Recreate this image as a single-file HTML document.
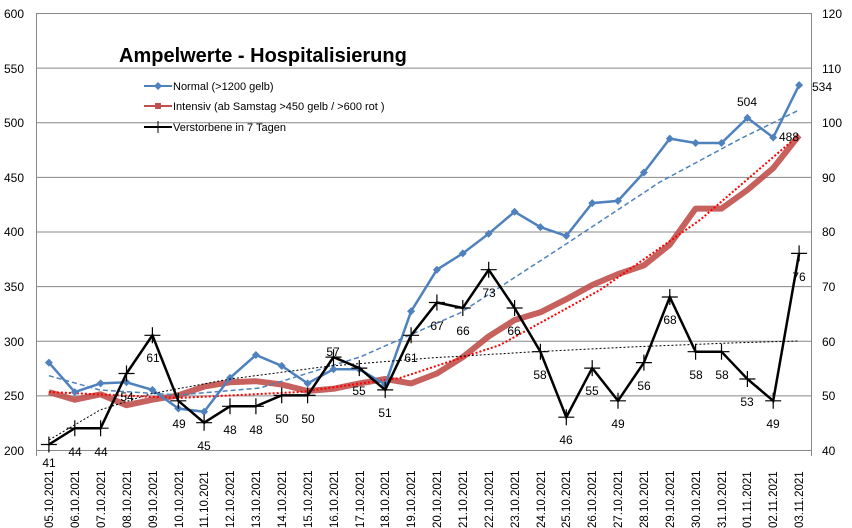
<!DOCTYPE html>
<html><head><meta charset="utf-8"><style>
body{margin:0;background:#fff;}
svg{display:block;font-family:"Liberation Sans",sans-serif;}
</style></head><body>
<svg width="852" height="528" xmlns="http://www.w3.org/2000/svg">
<g stroke="#888" stroke-width="1">
<line x1="36" y1="13.5" x2="812" y2="13.5"/>
<line x1="36" y1="68.1" x2="812" y2="68.1"/>
<line x1="36" y1="122.8" x2="812" y2="122.8"/>
<line x1="36" y1="177.4" x2="812" y2="177.4"/>
<line x1="36" y1="232" x2="812" y2="232"/>
<line x1="36" y1="286.6" x2="812" y2="286.6"/>
<line x1="36" y1="341.3" x2="812" y2="341.3"/>
<line x1="36" y1="395.9" x2="812" y2="395.9"/>
<line x1="36" y1="450.5" x2="812" y2="450.5"/>
<line x1="36.5" y1="13" x2="36.5" y2="456"/>
<line x1="811.5" y1="13" x2="811.5" y2="456"/>
</g>
<g font-size="12" fill="#000">
<text x="4" y="18">600</text><text x="4" y="73">550</text><text x="4" y="127">500</text><text x="4" y="182">450</text><text x="4" y="236">400</text><text x="4" y="291">350</text><text x="4" y="346">300</text><text x="4" y="400">250</text><text x="4" y="455">200</text>
<text x="822" y="18">120</text><text x="822" y="73">110</text><text x="822" y="127">100</text><text x="822" y="182">90</text><text x="822" y="236">80</text><text x="822" y="291">70</text><text x="822" y="346">60</text><text x="822" y="400">50</text><text x="822" y="455">40</text>
</g>
<g font-size="11.5" fill="#000">
<text transform="translate(53,528) rotate(-90)">05.10.2021</text>
<text transform="translate(79,528) rotate(-90)">06.10.2021</text>
<text transform="translate(105,528) rotate(-90)">07.10.2021</text>
<text transform="translate(131,528) rotate(-90)">08.10.2021</text>
<text transform="translate(157,528) rotate(-90)">09.10.2021</text>
<text transform="translate(183,528) rotate(-90)">10.10.2021</text>
<text transform="translate(208,528) rotate(-90)">11.10.2021</text>
<text transform="translate(234,528) rotate(-90)">12.10.2021</text>
<text transform="translate(260,528) rotate(-90)">13.10.2021</text>
<text transform="translate(286,528) rotate(-90)">14.10.2021</text>
<text transform="translate(312,528) rotate(-90)">15.10.2021</text>
<text transform="translate(338,528) rotate(-90)">16.10.2021</text>
<text transform="translate(364,528) rotate(-90)">17.10.2021</text>
<text transform="translate(389,528) rotate(-90)">18.10.2021</text>
<text transform="translate(415,528) rotate(-90)">19.10.2021</text>
<text transform="translate(441,528) rotate(-90)">20.10.2021</text>
<text transform="translate(467,528) rotate(-90)">21.10.2021</text>
<text transform="translate(493,528) rotate(-90)">22.10.2021</text>
<text transform="translate(519,528) rotate(-90)">23.10.2021</text>
<text transform="translate(545,528) rotate(-90)">24.10.2021</text>
<text transform="translate(570,528) rotate(-90)">25.10.2021</text>
<text transform="translate(596,528) rotate(-90)">26.10.2021</text>
<text transform="translate(622,528) rotate(-90)">27.10.2021</text>
<text transform="translate(648,528) rotate(-90)">28.10.2021</text>
<text transform="translate(674,528) rotate(-90)">29.10.2021</text>
<text transform="translate(700,528) rotate(-90)">30.10.2021</text>
<text transform="translate(726,528) rotate(-90)">31.10.2021</text>
<text transform="translate(751,528) rotate(-90)">01.11.2021</text>
<text transform="translate(777,528) rotate(-90)">02.11.2021</text>
<text transform="translate(803,528) rotate(-90)">03.11.2021</text>
</g>
<!-- Intensiv -->
<polyline fill="none" stroke="#c0504d" stroke-width="6" stroke-linejoin="round" opacity="0.9" points="48.9,392.1 74.8,399.7 100.6,394.3 126.5,405.2 152.4,399.7 178.3,395.4 204.1,386.6 230,382.3 255.9,381.2 281.7,384.5 307.6,391 333.5,388.8 359.3,383.4 385.2,379 411.1,383.4 436.9,373.5 462.8,357.1 488.7,336.4 514.6,320 540.4,312.3 566.3,299.2 592.2,285 618,274.1 643.9,265.4 669.8,244.6 695.6,208.6 721.5,208.6 747.4,190 773.2,168.1 799.1,135.4"/>
<polyline fill="none" stroke="#ff0000" stroke-width="2" stroke-dasharray="2,2" points="48.9,392 178,398 300,392 400,378 500,345 600,290 700,220 799,135"/>
<!-- Normal -->
<polyline fill="none" stroke="#4f81bd" stroke-width="2.5" points="48.9,362.6 74.8,392.1 100.6,383.4 126.5,382.3 152.4,389.9 178.3,408.5 204.1,411.8 230,377.9 255.9,355 281.7,365.9 307.6,383.4 333.5,369.2 359.3,369.2 385.2,384.5 411.1,311.3 436.9,269.7 462.8,253.4 488.7,233.7 514.6,211.8 540.4,227.1 566.3,235.9 592.2,203.1 618,200.9 643.9,172.5 669.8,138.6 695.6,143 721.5,143 747.4,117.9 773.2,137.5 799.1,85.1"/>
<g fill="#4f81bd">
<path d="M48.9,358.6l4,4l-4,4l-4,-4z M74.8,388.1l4,4l-4,4l-4,-4z M100.6,379.4l4,4l-4,4l-4,-4z M126.5,378.3l4,4l-4,4l-4,-4z M152.4,385.9l4,4l-4,4l-4,-4z M178.3,404.5l4,4l-4,4l-4,-4z M204.1,407.8l4,4l-4,4l-4,-4z M230,373.9l4,4l-4,4l-4,-4z M255.9,351l4,4l-4,4l-4,-4z M281.7,361.9l4,4l-4,4l-4,-4z M307.6,379.4l4,4l-4,4l-4,-4z M333.5,365.2l4,4l-4,4l-4,-4z M359.3,365.2l4,4l-4,4l-4,-4z M385.2,380.5l4,4l-4,4l-4,-4z M411.1,307.3l4,4l-4,4l-4,-4z M436.9,265.7l4,4l-4,4l-4,-4z M462.8,249.4l4,4l-4,4l-4,-4z M488.7,229.7l4,4l-4,4l-4,-4z M514.6,207.8l4,4l-4,4l-4,-4z M540.4,223.1l4,4l-4,4l-4,-4z M566.3,231.9l4,4l-4,4l-4,-4z M592.2,199.1l4,4l-4,4l-4,-4z M618,196.9l4,4l-4,4l-4,-4z M643.9,168.5l4,4l-4,4l-4,-4z M669.8,134.6l4,4l-4,4l-4,-4z M695.6,139l4,4l-4,4l-4,-4z M721.5,139l4,4l-4,4l-4,-4z M747.4,113.9l4,4l-4,4l-4,-4z M773.2,133.5l4,4l-4,4l-4,-4z M799.1,81.1l4,4l-4,4l-4,-4z"/>
</g>
<polyline fill="none" stroke="#4f81bd" stroke-width="1.5" stroke-dasharray="5,3" points="48.9,375.7 100,390 178,395 260,388 360,357 460,313 560,248 660,182 740,139 799,110"/>
<!-- Deaths -->
<polyline fill="none" stroke="#000" stroke-width="1" stroke-dasharray="2,2" points="49,440 100,410 150,394 230,379 330,366 430,358 530,352 630,347 730,343 799,341"/>
<polyline fill="none" stroke="#000" stroke-width="2.5" points="48.9,444.5 74.8,428.2 100.6,428.2 126.5,373.5 152.4,335.3 178.3,400.8 204.1,422.7 230,406.3 255.9,406.3 281.7,395.4 307.6,395.4 333.5,357.1 359.3,368.1 385.2,389.9 411.1,335.3 436.9,302.5 462.8,308 488.7,269.7 514.6,308 540.4,351.7 566.3,417.2 592.2,368.1 618,400.8 643.9,362.6 669.8,297 695.6,351.7 721.5,351.7 747.4,379 773.2,400.8 799.1,253.4"/>
<g stroke="#000" stroke-width="1.2">
<path d="M40.9,444.5h16M48.9,436.5v16 M66.8,428.2h16M74.8,420.2v16 M92.6,428.2h16M100.6,420.2v16 M118.5,373.5h16M126.5,365.5v16 M144.4,335.3h16M152.4,327.3v16 M170.3,400.8h16M178.3,392.8v16 M196.1,422.7h16M204.1,414.7v16 M222,406.3h16M230,398.3v16 M247.9,406.3h16M255.9,398.3v16 M273.7,395.4h16M281.7,387.4v16 M299.6,395.4h16M307.6,387.4v16 M325.5,357.1h16M333.5,349.1v16 M351.3,368.1h16M359.3,360.1v16 M377.2,389.9h16M385.2,381.9v16 M403.1,335.3h16M411.1,327.3v16 M428.9,302.5h16M436.9,294.5v16 M454.8,308h16M462.8,300v16 M480.7,269.7h16M488.7,261.7v16 M506.6,308h16M514.6,300v16 M532.4,351.7h16M540.4,343.7v16 M558.3,417.2h16M566.3,409.2v16 M584.2,368.1h16M592.2,360.1v16 M610,400.8h16M618,392.8v16 M635.9,362.6h16M643.9,354.6v16 M661.8,297h16M669.8,289v16 M687.6,351.7h16M695.6,343.7v16 M713.5,351.7h16M721.5,343.7v16 M739.4,379h16M747.4,371v16 M765.2,400.8h16M773.2,392.8v16 M791.1,253.4h16M799.1,245.4v16"/>
</g>
<g font-size="12" fill="#000" text-anchor="middle">
<text x="49" y="467">41</text><text x="75" y="456">44</text><text x="101" y="456">44</text><text x="127" y="401">54</text><text x="153" y="362">61</text><text x="179" y="428">49</text><text x="204" y="450">45</text><text x="230" y="434">48</text><text x="256" y="434">48</text><text x="282" y="423">50</text><text x="308" y="423">50</text><text x="333" y="356">57</text><text x="359" y="395">55</text><text x="385" y="417">51</text><text x="411" y="362">61</text><text x="437" y="330">67</text><text x="463" y="335">66</text><text x="489" y="297">73</text><text x="514" y="335">66</text><text x="540" y="379">58</text><text x="566" y="444">46</text><text x="592" y="395">55</text><text x="618" y="428">49</text><text x="644" y="390">56</text><text x="670" y="324">68</text><text x="696" y="379">58</text><text x="722" y="379">58</text><text x="747" y="406">53</text><text x="773" y="428">49</text><text x="799" y="281">76</text>
<text x="747" y="106">504</text><text x="822" y="91">534</text><text x="789" y="141">488</text>
</g>
<text x="119" y="62" font-size="20" font-weight="bold" fill="#000">Ampelwerte - Hospitalisierung</text>
<g font-size="11" fill="#000">
<line x1="144" y1="86" x2="172" y2="86" stroke="#4f81bd" stroke-width="2"/><path d="M158,82l4,4l-4,4l-4,-4z" fill="#4f81bd"/>
<text x="173" y="90">Normal (&gt;1200 gelb)</text>
<line x1="144" y1="106" x2="172" y2="106" stroke="#c0504d" stroke-width="2"/><rect x="155" y="103" width="6" height="6" fill="#c0504d"/>
<text x="173" y="110">Intensiv (ab Samstag  &gt;450 gelb / &gt;600 rot )</text>
<line x1="144" y1="127" x2="172" y2="127" stroke="#000" stroke-width="2"/><line x1="158" y1="121" x2="158" y2="133" stroke="#000"/>
<text x="173" y="131">Verstorbene in 7 Tagen</text>
</g>
</svg>
</body></html>
